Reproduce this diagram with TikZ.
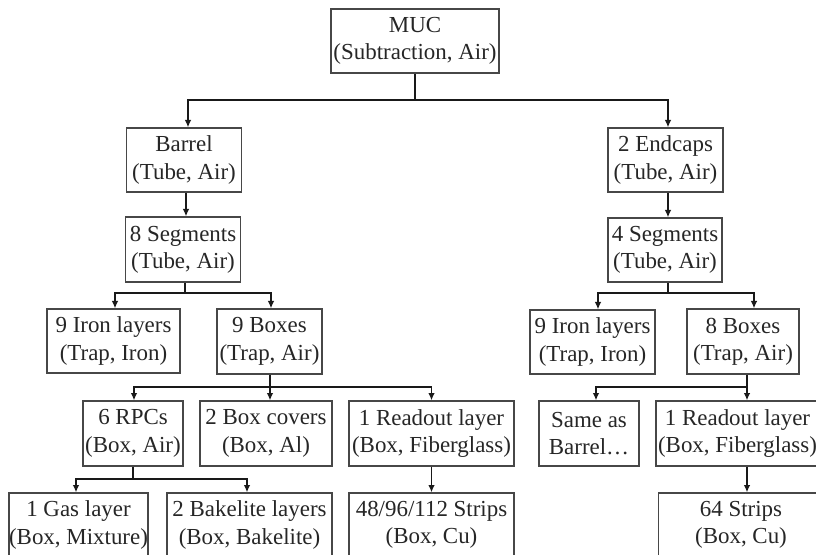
\documentclass[tikz,border=0pt]{standalone}
\usepackage{fontspec}
\setmainfont{Liberation Serif}
\usetikzlibrary{arrows.meta,calc}
\tikzset{
  bx/.style 2 args={draw=black!72, line width=1pt, text=black!85, align=center, inner sep=0pt,
     minimum width={#1*0.75pt}, minimum height={#2*0.75pt},
     font=\fontsize{17.2}{20.5}\selectfont},
  ln/.style={line width=1.4pt, black!90},
  arr/.style={ln, -{Latex[length=5.5pt,width=5pt]}}
}
\begin{document}
\begin{tikzpicture}[x=0.75pt,y=-0.75pt]
\useasboundingbox (0,0) rectangle (816,555);
\clip (0,0) rectangle (816,555);
\fill[white] (0,0) rectangle (816,555);
% nodes
\node[bx={168}{64}] (muc) at (415,41) {MUC\\(Subtraction, Air)};
\node[bx={115}{64}] (barrel) at (184,160) {Barrel\\(Tube, Air)};
\node[bx={115}{64}] (endcaps) at (665.5,160) {2 Endcaps\\(Tube, Air)};
\node[bx={115}{65}] (seg8) at (183,249.5) {8 Segments\\(Tube, Air)};
\node[bx={114}{64}] (seg4) at (665,250) {4 Segments\\(Tube, Air)};
\node[bx={133}{64}] (ironL) at (113.5,341) {9 Iron layers\\(Trap, Iron)};
\node[bx={105}{65}] (boxes9) at (269.5,341.5) {9 Boxes\\(Trap, Air)};
\node[bx={125}{64}] (ironR) at (592.5,342) {9 Iron layers\\(Trap, Iron)};
\node[bx={112}{65}] (boxes8) at (743,341.5) {8 Boxes\\(Trap, Air)};
\node[bx={100}{65}] (rpc) at (133,433.5) {6 RPCs\\(Box, Air)};
\node[bx={132}{65}] (covers) at (266,433.5) {2 Box covers\\(Box, Al)};
\node[bx={165}{65}] (readL) at (431.5,433.5) {1 Readout layer\\(Box, Fiberglass)};
\node[bx={100}{65}] (same) at (589,433.5) {Same as\\Barrel…};
\node[bx={163}{65}] (readR) at (737.5,433.5) {1 Readout layer\\(Box, Fiberglass)};
\node[bx={139}{64}] (gas) at (78.5,525) {1 Gas layer\\(Box, Mixture)};
\node[bx={165}{64}] (bake) at (249.5,525) {2 Bakelite layers\\(Box, Bakelite)};
\node[bx={165}{64}] (stripsL) at (431.5,525) {48/96/112 Strips\\(Box, Cu)};
\node[bx={165}{64}] (stripsR) at (741,525) {64 Strips\\(Box, Cu)};
% bus points
\coordinate (b1) at (415,100);
\coordinate (b2) at (185,293);
\coordinate (b3) at (668,293);
\coordinate (b4) at (270,387);
\coordinate (b5) at (747,387);
\coordinate (b6) at (133,479);
% connectors
\draw[ln] (muc.south) -- (b1);
\draw[arr] (b1) -| ($(barrel.north)+(4,0)$);
\draw[arr] (b1) -| ($(endcaps.north)+(2.5,0)$);
\draw[arr] ($(barrel.south)+(2,0)$) -- ($(seg8.north)+(3,0)$);
\draw[arr] ($(endcaps.south)+(2.5,0)$) -- ($(seg4.north)+(3,0)$);
\draw[ln] ($(seg8.south)+(2,0)$) -- (b2);
\draw[arr] (b2) -| ($(ironL.north)+(1.5,0)$);
\draw[arr] (b2) -| ($(boxes9.north)+(1.5,0)$);
\draw[ln] ($(seg4.south)+(3,0)$) -- (b3);
\draw[arr] (b3) -| ($(ironR.north)+(5.5,0)$);
\draw[arr] (b3) -| ($(boxes8.north)+(11,0)$);
\draw[ln] ($(boxes9.south)+(0.5,0)$) -- (b4);
\draw[arr] (b4) -| ($(rpc.north)+(1,0)$);
\draw[arr] (b4) -- ($(covers.north)+(4,0)$);
\draw[arr] (b4) -| (readL.north);
\draw[ln] ($(boxes8.south)+(4,0)$) -- (b5);
\draw[arr] (b5) -| ($(same.north)+(7,0)$);
\draw[arr] (b5) -- ($(readR.north)+(9.5,0)$);
\draw[ln] (rpc.south) -- (b6);
\draw[arr] (b6) -| ($(gas.north)+(-2.5,0)$);
\draw[arr] (b6) -| ($(bake.north)+(-2.5,0)$);
\draw[arr] (readL.south) -- (stripsL.north);
\draw[arr] ($(readR.south)+(9.5,0)$) -- ($(stripsR.north)+(6,0)$);
\end{tikzpicture}
\end{document}
